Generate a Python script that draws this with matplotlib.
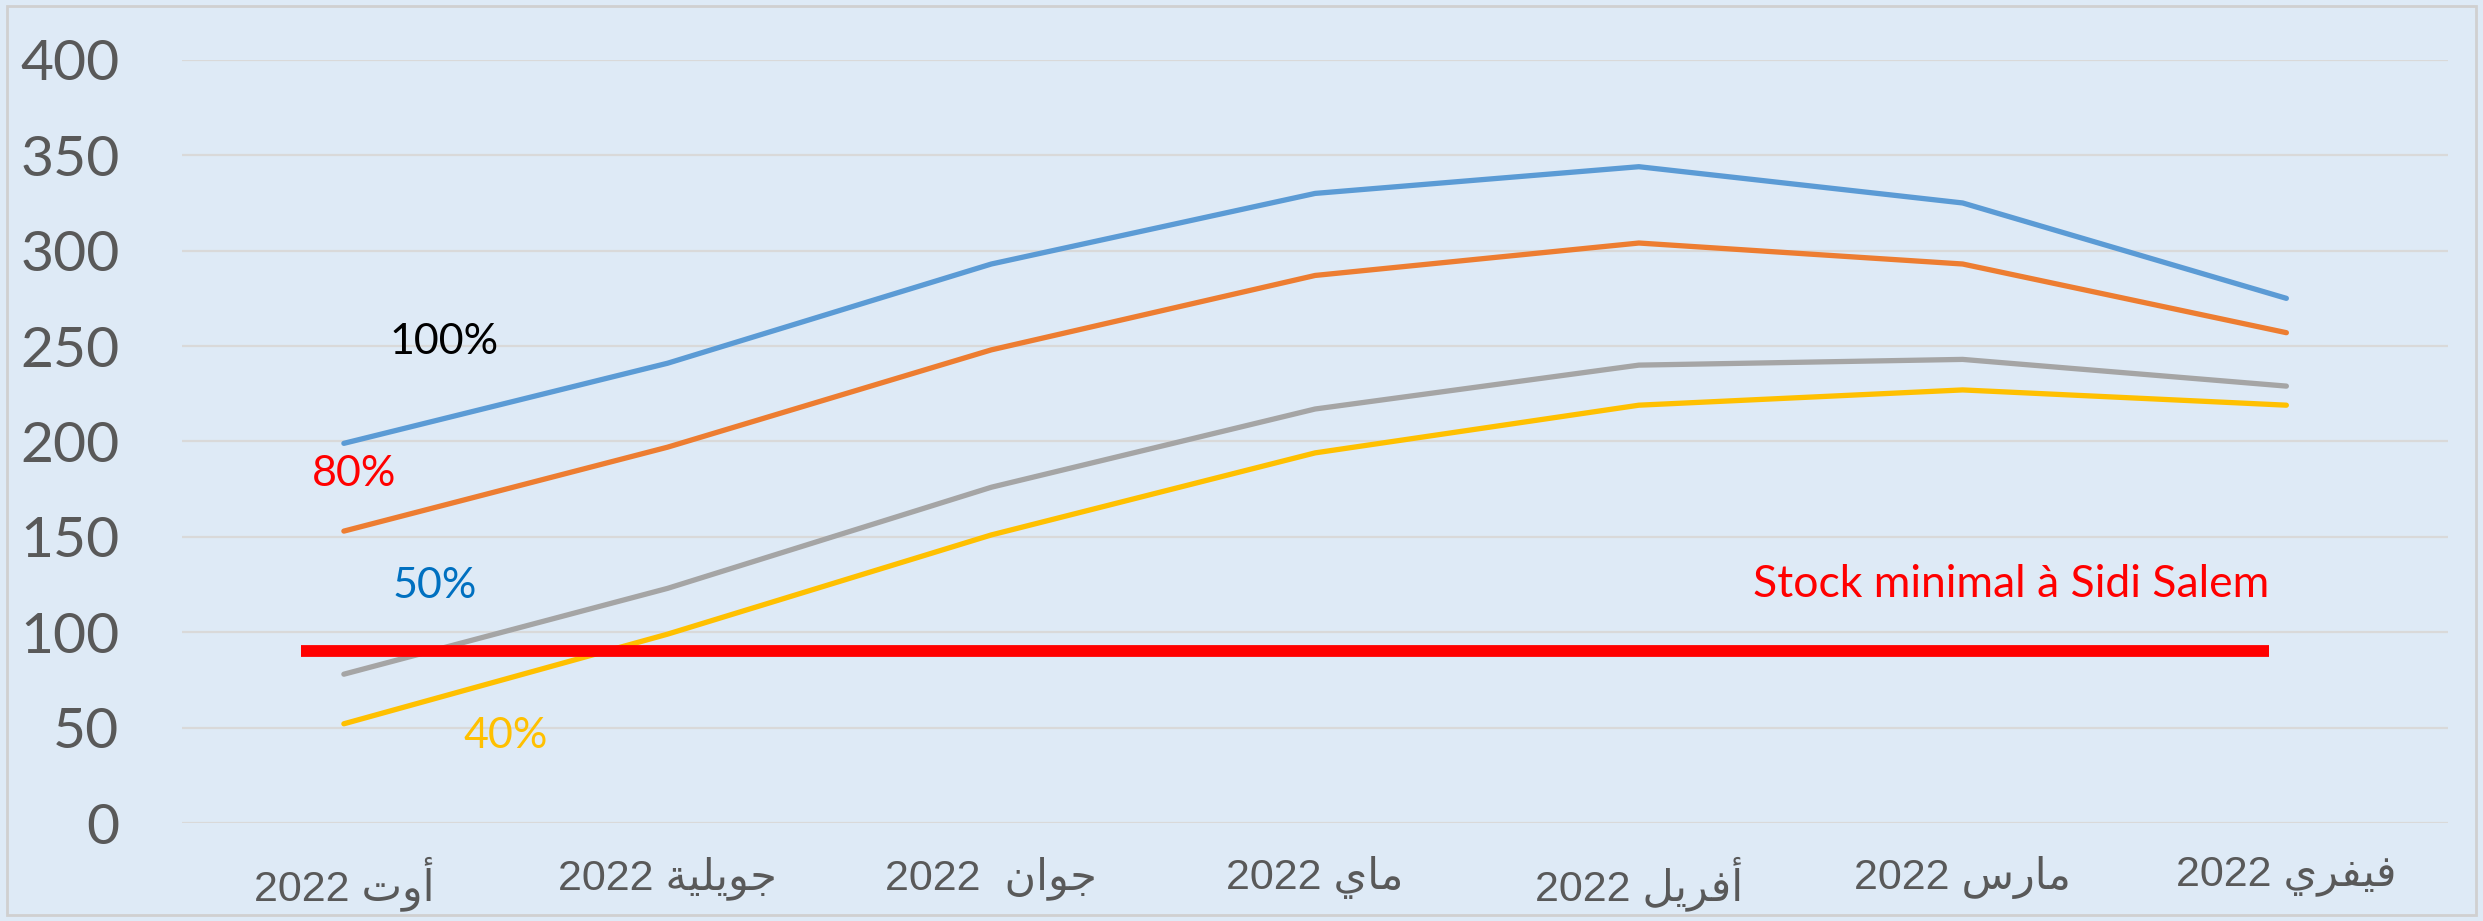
import matplotlib
matplotlib.use("Agg")
import matplotlib.pyplot as plt
from matplotlib.patches import Rectangle
import numpy as np

# month names (logical Arabic order), from left to right on the chart
months = ["أوت", "جويلية", "جوان", "ماي", "أفريل", "مارس", "فيفري"]
year = "2022"

s100 = [199, 241, 293, 330, 344, 325, 275]
s80 = [153, 197, 248, 287, 304, 293, 257]
s50 = [78, 123, 176, 217, 240, 243, 229]
s40 = [52, 99, 151, 194, 219, 227, 219]
stock_min = 90

# presentation forms: isolated, final, initial, medial
FORMS = {
    "ا": ("\uFE8D", "\uFE8E", None, None),
    "أ": ("\uFE83", "\uFE84", None, None),
    "و": ("\uFEED", "\uFEEE", None, None),
    "ر": ("\uFEAD", "\uFEAE", None, None),
    "ة": ("\uFE93", "\uFE94", None, None),
    "ت": ("\uFE95", "\uFE96", "\uFE97", "\uFE98"),
    "ج": ("\uFE9D", "\uFE9E", "\uFE9F", "\uFEA0"),
    "ي": ("\uFEF1", "\uFEF2", "\uFEF3", "\uFEF4"),
    "ل": ("\uFEDD", "\uFEDE", "\uFEDF", "\uFEE0"),
    "ن": ("\uFEE5", "\uFEE6", "\uFEE7", "\uFEE8"),
    "م": ("\uFEE1", "\uFEE2", "\uFEE3", "\uFEE4"),
    "ف": ("\uFED1", "\uFED2", "\uFED3", "\uFED4"),
    "س": ("\uFEB1", "\uFEB2", "\uFEB3", "\uFEB4"),
}


def shape(word):
    out = []
    for i, c in enumerate(word):
        f = FORMS.get(c)
        if f is None:
            out.append(c)
            continue
        prev = word[i - 1] if i > 0 else None
        nxt = word[i + 1] if i + 1 < len(word) else None
        pj = prev in FORMS and FORMS[prev][2] is not None
        nj = nxt in FORMS and f[2] is not None
        if pj and nj:
            out.append(f[3])
        elif pj:
            out.append(f[1])
        elif nj:
            out.append(f[2])
        else:
            out.append(f[0])
    return "".join(out)[::-1]


labels = []
for m in months:
    gap = "  " if m == "جوان" else " "
    labels.append(year + gap + shape(m))

bg = "#DEEAF6"
fig = plt.figure(figsize=(24.83, 9.21), dpi=100, facecolor=bg)
fig.patches.append(Rectangle((0.003, 0.006), 0.994, 0.988, transform=fig.transFigure,
                             fill=False, edgecolor="#D0D0D0", linewidth=2))
ax = fig.add_axes([0.0733, 0.1064, 0.9127, 0.8286])
ax.set_facecolor(bg)

x = np.arange(len(months))
ax.plot(x, s100, color="#5B9BD5", lw=3.8, solid_capstyle="round", zorder=3)
ax.plot(x, s80, color="#ED7D31", lw=3.8, solid_capstyle="round", zorder=3)
ax.plot(x, s50, color="#A5A5A5", lw=3.8, solid_capstyle="round", zorder=3)
ax.plot(x, s40, color="#FFC000", lw=3.8, solid_capstyle="round", zorder=3)
ax.hlines(stock_min, -0.133, 5.947, color="#FF0000", lw=8.5, zorder=4)

ax.set_xlim(-0.5, 6.5)
ax.set_ylim(0, 400)
ax.set_yticks(range(0, 401, 50))
ax.yaxis.grid(True, color="#D9D9D9", lw=1.6)
ax.set_axisbelow(True)
for sp in ax.spines.values():
    sp.set_visible(False)
ax.tick_params(length=0)
ax.tick_params(axis="y", pad=45, labelsize=41, labelcolor="#595959")
for t in ax.get_yticklabels():
    t.set_family("Lato")
ax.set_xticks(x)
ax.set_xticklabels(labels, fontsize=31, color="#595959",
                   family=["Liberation Sans", "DejaVu Sans"])
ax.tick_params(axis="x", pad=24)

tf = "Lato"
ax.text(0.31, 252, "100%", color="black", fontsize=31, family=tf, ha="center", va="center")
ax.text(0.03, 183, "80%", color="#FF0000", fontsize=31, family=tf, ha="center", va="center")
ax.text(0.28, 124, "50%", color="#0070C0", fontsize=31, family=tf, ha="center", va="center")
ax.text(0.50, 45.5, "40%", color="#FFC000", fontsize=31, family=tf, ha="center", va="center")
ax.text(5.15, 125, "Stock minimal à Sidi Salem", color="#FF0000", fontsize=32, family=tf,
        ha="center", va="center")

fig.savefig("out.png", dpi=100, facecolor=bg)
